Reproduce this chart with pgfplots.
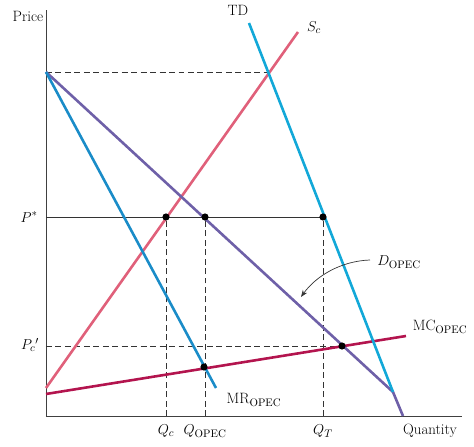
\documentclass[border=0pt]{standalone}
\usepackage{pgfplots}
\pgfplotsset{compat=1.18}
\usetikzlibrary{arrows.meta}

\definecolor{tdcyan}{HTML}{12A8D8}
\definecolor{mrblue}{HTML}{1A8CC8}
\definecolor{dpurple}{HTML}{6E60A8}
\definecolor{scpink}{HTML}{E0607A}
\definecolor{mccrim}{HTML}{B3144E}

\begin{document}
\begin{tikzpicture}[font=\fontsize{15}{17}\selectfont]
  \begin{axis}[
      scale only axis,
      width=416bp, height=406bp,
      xmin=0, xmax=416, ymin=0, ymax=406,
      axis x line=bottom, axis y line=left,
      axis line style={-, line width=0.8pt, black!75},
      xtick=\empty, ytick=\empty,
      clip=false,
      every axis plot/.append style={line width=2.6pt},
      guide/.style={line width=0.7pt, black!80, dash pattern=on 6pt off 3.5pt},
    ]
    % bounding box of the whole picture
    \path (axis cs:-46,-31) rectangle (axis cs:428,416);

    % guide lines
    \addplot[guide] coordinates {(0,344) (222,344)};
    \addplot[black!80, line width=0.7pt] coordinates {(0,199) (277,199)};
    \addplot[guide] coordinates {(0,70) (296,70)};
    \addplot[guide] coordinates {(120,0) (120,199)};
    \addplot[guide] coordinates {(159,0) (159,199)};
    \addplot[guide] coordinates {(277,0) (277,199)};

    % curves
    \addplot[scpink] coordinates {(0,28) (252,384)};
    \addplot[mccrim] coordinates {(0,22) (360,80)};
    \addplot[dpurple] coordinates {(0,344) (347,24) (357,0)};
    \addplot[tdcyan] coordinates {(203,393) (347,24)};
    \addplot[mrblue] coordinates {(0,344) (170,28)};

    % points
    \addplot[only marks, mark=*, mark size=2.2pt, black] coordinates {
      (120,199) (159,199) (277,199) (296,70) (158,49)};

    % labels
    \node at (axis cs:-18,400) {Price};
    \node at (axis cs:384,-15) {Quantity};
    \node at (axis cs:192,406) {TD};
    \node at (axis cs:268,388) {$S_c$};
    \node at (axis cs:-17,199) {$P^{*}$};
    \node at (axis cs:-16,71) {$P_c{}'$};
    \node at (axis cs:120,-15) {$Q_c$};
    \node at (axis cs:159,-15) {$Q_{\mathrm{OPEC}}$};
    \node at (axis cs:277,-15) {$Q_T$};
    \node at (axis cs:353,154) {$D_{\mathrm{OPEC}}$};
    \node at (axis cs:394,89) {MC$_{\mathrm{OPEC}}$};
    \node at (axis cs:208,16) {MR$_{\mathrm{OPEC}}$};
    \draw[-{Stealth[length=7pt]}, line width=0.7pt, black!80]
      (axis cs:324,156) .. controls (axis cs:295,155) and (axis cs:270,140) .. (axis cs:255,119);
  \end{axis}
\end{tikzpicture}
\end{document}
